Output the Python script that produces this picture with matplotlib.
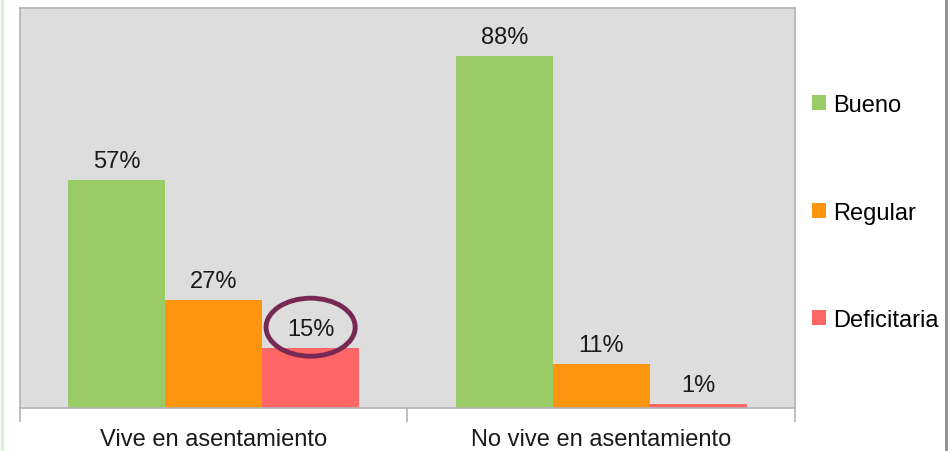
import matplotlib.pyplot as plt
import numpy as np
from matplotlib.patches import Ellipse
from matplotlib.lines import Line2D

plt.rcParams['font.family'] = ['Liberation Sans', 'DejaVu Sans']

categories = ['Vive en asentamiento', 'No vive en asentamiento']
series_names = ['Bueno', 'Regular', 'Deficitaria']
bueno = [57, 88]
regular = [27, 11]
deficitaria = [15, 1]
colors = ['#99cc66', '#ff950e', '#ff6666']

W, H = 950, 452
FS = 17
fig = plt.figure(figsize=(W / 100, H / 100), dpi=100)
ax = fig.add_axes([20 / W, (H - 409) / H, 775 / W, 400 / H])
ax.set_facecolor('#dddddd')

x = np.arange(len(categories))
width = 0.25
bars = []
for i, (name, vals) in enumerate(zip(series_names, [bueno, regular, deficitaria])):
    b = ax.bar(x + (i - 1) * width, vals, width, color=colors[i], label=name, zorder=2)
    bars.append(b)
    for xi, v in zip(x + (i - 1) * width, vals):
        ax.annotate(f'{v}%', (xi, v), xytext=(0, 6), textcoords='offset points',
                    ha='center', va='bottom', fontsize=FS, color='#1a1a1a')

ax.set_xlim(-0.5, 1.5)
ax.set_ylim(0, 100)
ax.set_yticks([])
ax.set_xticks([-0.5, 0.5, 1.5], minor=False)
ax.set_xticklabels([])
ax.tick_params(axis='x', length=10, color='#b3b3b3', width=1.2)
ax.set_xticks(x, minor=True)
ax.set_xticklabels(categories, minor=True, fontsize=FS, color='#1a1a1a')
ax.tick_params(axis='x', which='minor', length=0, pad=14.5)
for s in ax.spines.values():
    s.set_color('#b3b3b3')
    s.set_linewidth(1.2)

# highlight ellipse around the 15% label
ell = Ellipse((0.25, 20.2), width=0.23, height=14.5, fill=False,
              edgecolor='#772953', linewidth=3.5, zorder=3)
ax.add_patch(ell)

leg = fig.legend(handles=bars, labels=series_names, loc='upper left',
                 bbox_to_anchor=(791 / W, 1 - 74 / H), frameon=False,
                 fontsize=FS, handlelength=0.6, handleheight=0.6,
                 handletextpad=0.3, labelspacing=3.62)

# thin frame accents at figure edges
fig.add_artist(Line2D([1.5 / W, 1.5 / W], [0, 1], color='#e2efd9', lw=2.5))
fig.add_artist(Line2D([946 / W, 946 / W], [0, 1], color='#8c8c8c', lw=2))

fig.savefig('out.png', dpi=100)
